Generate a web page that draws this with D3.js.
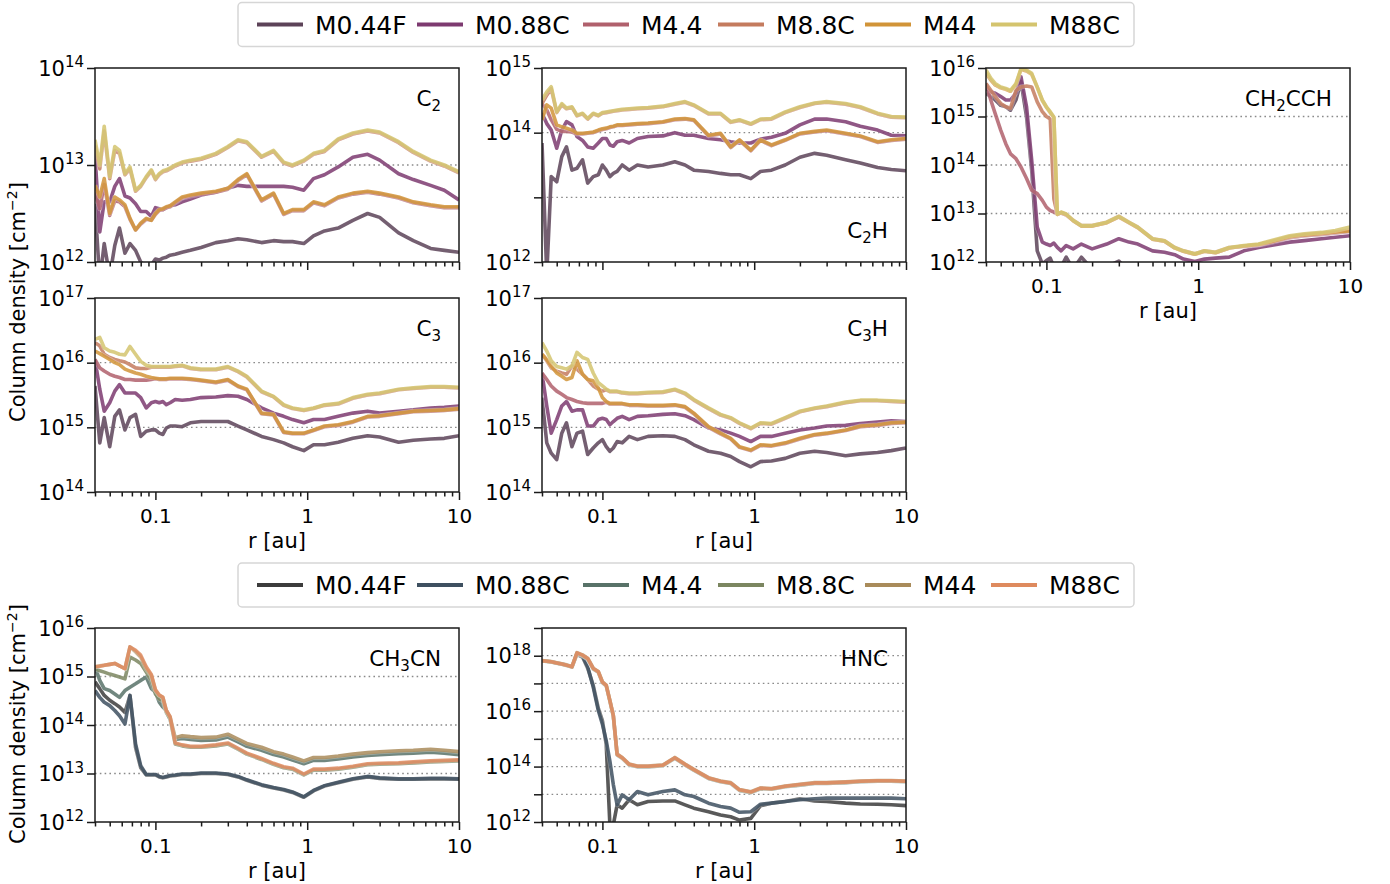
<!DOCTYPE html>
<html>
<head>
<meta charset="utf-8">
<script src="https://cdn.jsdelivr.net/npm/d3@7"></script>
<style>
  html, body { margin: 0; padding: 0; background: #fff; }
  svg { display: block; font-family: "DejaVu Sans", sans-serif; }
</style>
</head>
<body>
<svg id="chart" width="1390" height="884"></svg>
<script>
// radius grid shared by every panel [au]
const radius = [0.040, 0.043, 0.046, 0.050, 0.054, 0.058, 0.063, 0.068, 0.074, 0.080,
  0.087, 0.094, 0.100, 0.106, 0.112, 0.118, 0.125, 0.135, 0.15, 0.17,
  0.20, 0.25, 0.30, 0.35, 0.40, 0.50, 0.60, 0.70, 0.80, 0.95,
  1.1, 1.3, 1.6, 2.0, 2.5, 3.0, 4.0, 5.0, 6.5, 8.0, 10.0];

const models = ["M0.44F", "M0.88C", "M4.4", "M8.8C", "M44", "M88C"];
const warmColors = ["#5c4358", "#7d3a70", "#b0606c", "#c47b5e", "#d19438", "#d4c46e"];
const coolColors = ["#3c3c3c", "#3e5060", "#587268", "#7b8660", "#a98b5a", "#de8a5e"];

// log10 of column density [cm^-2], rows follow the order of `models`
const c2 = [
  [12.6, 11.8, 12.19, 11.85, 12.17, 12.35, 12.09, 12.19, 12.12, 12.0, 11.95, 11.97, 12.03, 12.02, 12.04, 12.05, 12.07, 12.08, 12.10, 12.12, 12.15, 12.20, 12.22, 12.24, 12.23, 12.20, 12.22, 12.21, 12.21, 12.19, 12.27, 12.32, 12.35, 12.43, 12.50, 12.46, 12.30, 12.22, 12.14, 12.12, 12.10],
  [13.1, 12.31, 12.62, 12.62, 12.78, 12.86, 12.68, 12.66, 12.60, 12.52, 12.52, 12.47, 12.56, 12.55, 12.54, 12.56, 12.58, 12.59, 12.62, 12.65, 12.69, 12.72, 12.76, 12.79, 12.78, 12.78, 12.78, 12.78, 12.77, 12.74, 12.86, 12.90, 12.98, 13.08, 13.11, 13.05, 12.91, 12.85, 12.79, 12.74, 12.64],
  [12.72, 12.55, 12.80, 12.48, 12.63, 12.62, 12.57, 12.44, 12.33, 12.39, 12.44, 12.43, 12.49, 12.53, 12.54, 12.56, 12.57, 12.61, 12.66, 12.68, 12.70, 12.72, 12.75, 12.84, 12.90, 12.63, 12.70, 12.49, 12.53, 12.53, 12.61, 12.58, 12.66, 12.70, 12.72, 12.70, 12.66, 12.61, 12.58, 12.56, 12.56],
  [13.20, 12.96, 13.35, 12.86, 13.15, 13.12, 12.90, 12.96, 12.73, 12.78, 12.87, 12.94, 12.85, 12.90, 12.93, 12.94, 12.96, 12.99, 13.02, 13.04, 13.06, 13.11, 13.18, 13.25, 13.23, 13.08, 13.14, 13.02, 12.99, 13.04, 13.11, 13.14, 13.26, 13.32, 13.35, 13.33, 13.23, 13.13, 13.04, 12.99, 12.92],
  [12.79, 12.67, 12.86, 12.50, 12.67, 12.64, 12.59, 12.45, 12.33, 12.40, 12.45, 12.43, 12.50, 12.54, 12.55, 12.57, 12.58, 12.62, 12.67, 12.69, 12.71, 12.73, 12.76, 12.85, 12.91, 12.64, 12.71, 12.50, 12.54, 12.54, 12.62, 12.59, 12.67, 12.71, 12.73, 12.71, 12.67, 12.62, 12.59, 12.57, 12.57],
  [13.26, 13.0, 13.40, 12.88, 13.19, 13.15, 12.91, 12.98, 12.74, 12.79, 12.88, 12.95, 12.86, 12.91, 12.94, 12.95, 12.97, 13.0, 13.03, 13.05, 13.07, 13.12, 13.19, 13.26, 13.24, 13.09, 13.15, 13.03, 13.0, 13.05, 13.12, 13.15, 13.27, 13.33, 13.36, 13.34, 13.24, 13.14, 13.05, 13.0, 12.93]
];

const c2h = [
  [13.84, 11.8, 13.32, 13.24, 13.63, 13.78, 13.42, 13.45, 13.58, 13.22, 13.32, 13.35, 13.50, 13.42, 13.32, 13.37, 13.40, 13.50, 13.42, 13.50, 13.47, 13.50, 13.55, 13.50, 13.42, 13.40, 13.37, 13.35, 13.35, 13.29, 13.40, 13.42, 13.50, 13.62, 13.68, 13.65, 13.58, 13.53, 13.46, 13.43, 13.41],
  [14.30, 14.14, 14.04, 13.76, 14.04, 14.17, 14.12, 13.94, 13.88, 13.78, 13.76, 13.84, 13.91, 13.91, 13.81, 13.79, 13.86, 13.88, 13.84, 13.91, 13.94, 13.95, 14.0, 13.96, 13.96, 13.91, 13.89, 13.86, 13.84, 13.84, 13.90, 13.93, 13.99, 14.12, 14.21, 14.21, 14.17, 14.10, 14.04, 13.96, 13.95],
  [14.45, 14.35, 14.20, 14.05, 14.02, 14.02, 14.01, 13.98, 13.98, 13.99, 14.00, 14.03, 14.05, 14.06, 14.08, 14.09, 14.11, 14.11, 14.12, 14.13, 14.14, 14.16, 14.20, 14.21, 14.19, 13.95, 13.98, 13.77, 13.88, 13.72, 13.88, 13.80, 13.88, 13.98, 14.01, 14.03, 13.98, 13.94, 13.85, 13.88, 13.90],
  [14.45, 14.58, 14.68, 14.31, 14.43, 14.37, 14.39, 14.26, 14.29, 14.21, 14.29, 14.26, 14.30, 14.31, 14.32, 14.33, 14.34, 14.35, 14.36, 14.37, 14.38, 14.40, 14.44, 14.47, 14.42, 14.29, 14.29, 14.16, 14.19, 14.13, 14.20, 14.21, 14.31, 14.39, 14.45, 14.47, 14.44, 14.39, 14.29, 14.24, 14.23],
  [14.20, 14.43, 14.38, 14.12, 14.09, 14.07, 14.04, 13.99, 13.99, 14.0, 14.01, 14.04, 14.06, 14.07, 14.09, 14.10, 14.12, 14.12, 14.13, 14.14, 14.15, 14.17, 14.21, 14.22, 14.20, 13.96, 13.99, 13.78, 13.89, 13.73, 13.89, 13.81, 13.89, 13.99, 14.02, 14.04, 13.99, 13.95, 13.86, 13.89, 13.91],
  [14.51, 14.63, 14.71, 14.32, 14.45, 14.38, 14.40, 14.27, 14.30, 14.22, 14.30, 14.27, 14.31, 14.32, 14.33, 14.34, 14.35, 14.36, 14.37, 14.38, 14.39, 14.41, 14.45, 14.48, 14.43, 14.30, 14.30, 14.17, 14.20, 14.14, 14.21, 14.22, 14.32, 14.40, 14.46, 14.48, 14.45, 14.40, 14.30, 14.25, 14.24]
];

const ch2cch = [
  [15.48, 15.41, 15.34, 15.23, 15.20, 15.13, 15.34, 15.72, 14.99, 13.89, 12.23, 11.96, 12.03, 12.08, 11.9, 11.85, 11.9, 12.1, 11.85, 12.1, 11.85, 11.9, 12.02, 11.8, 11.8, 11.8, 11.7, 11.7, 11.7, 11.7, 11.7, 11.7, 11.7, 11.7, 11.7, 11.7, 11.7, 11.7, 11.7, 11.7, 11.7],
  [15.58, 15.51, 15.48, 15.41, 15.34, 15.34, 15.48, 15.82, 15.20, 14.10, 12.72, 12.41, 12.37, 12.34, 12.39, 12.30, 12.23, 12.34, 12.27, 12.37, 12.27, 12.37, 12.48, 12.41, 12.37, 12.23, 12.20, 12.15, 12.06, 12.01, 12.06, 12.08, 12.10, 12.23, 12.30, 12.34, 12.41, 12.44, 12.48, 12.51, 12.54],
  [15.68, 15.34, 15.06, 14.72, 14.44, 14.23, 14.13, 13.96, 13.72, 13.48, 13.41, 13.27, 13.13, 13.06, 13.03, 12.99, 13.01, 12.97, 12.86, 12.75, 12.75, 12.82, 12.94, 12.82, 12.72, 12.48, 12.44, 12.30, 12.23, 12.17, 12.23, 12.20, 12.30, 12.32, 12.35, 12.40, 12.50, 12.54, 12.57, 12.60, 12.63],
  [15.68, 15.54, 15.41, 15.27, 15.20, 15.17, 15.54, 15.61, 15.63, 15.61, 15.30, 15.10, 15.0, 14.95, 13.3, 12.98, 13.02, 12.98, 12.85, 12.74, 12.74, 12.81, 12.93, 12.81, 12.71, 12.47, 12.43, 12.29, 12.22, 12.16, 12.22, 12.19, 12.29, 12.33, 12.36, 12.42, 12.52, 12.56, 12.59, 12.62, 12.66],
  [15.90, 15.75, 15.65, 15.59, 15.56, 15.52, 15.66, 15.97, 15.94, 15.87, 15.60, 15.33, 15.19, 15.08, 14.98, 12.98, 13.02, 12.98, 12.85, 12.74, 12.74, 12.81, 12.93, 12.81, 12.71, 12.47, 12.43, 12.29, 12.22, 12.16, 12.22, 12.19, 12.29, 12.33, 12.36, 12.42, 12.52, 12.56, 12.59, 12.62, 12.64],
  [15.96, 15.79, 15.68, 15.61, 15.58, 15.54, 15.68, 15.99, 15.96, 15.89, 15.61, 15.34, 15.20, 15.10, 14.99, 12.99, 13.03, 12.99, 12.86, 12.75, 12.75, 12.82, 12.94, 12.82, 12.72, 12.48, 12.44, 12.30, 12.23, 12.17, 12.23, 12.20, 12.30, 12.34, 12.37, 12.44, 12.54, 12.58, 12.61, 12.65, 12.72]
];

const c3 = [
  [15.64, 14.76, 15.15, 14.70, 15.17, 15.27, 14.96, 15.15, 15.20, 14.86, 14.94, 14.96, 14.96, 14.91, 14.89, 14.99, 15.02, 15.02, 15.01, 15.07, 15.09, 15.09, 15.09, 15.02, 14.96, 14.86, 14.81, 14.76, 14.70, 14.64, 14.73, 14.73, 14.77, 14.83, 14.87, 14.85, 14.77, 14.80, 14.82, 14.83, 14.87],
  [16.05, 15.59, 15.25, 15.38, 15.56, 15.66, 15.53, 15.53, 15.53, 15.46, 15.30, 15.38, 15.40, 15.38, 15.40, 15.35, 15.38, 15.43, 15.42, 15.43, 15.46, 15.47, 15.49, 15.48, 15.43, 15.30, 15.22, 15.17, 15.12, 15.07, 15.12, 15.12, 15.17, 15.22, 15.25, 15.22, 15.25, 15.27, 15.30, 15.31, 15.33],
  [16.05, 15.92, 15.87, 15.82, 15.79, 15.77, 15.74, 15.74, 15.73, 15.73, 15.73, 15.74, 15.75, 15.74, 15.74, 15.74, 15.75, 15.75, 15.75, 15.74, 15.72, 15.69, 15.73, 15.63, 15.58, 15.21, 15.19, 14.92, 14.90, 14.90, 14.95, 15.01, 15.03, 15.08, 15.16, 15.17, 15.21, 15.24, 15.25, 15.26, 15.28],
  [16.31, 16.26, 16.13, 16.08, 16.05, 16.03, 16.01, 15.97, 15.92, 15.91, 15.91, 15.93, 15.93, 15.93, 15.93, 15.93, 15.93, 15.94, 15.95, 15.91, 15.89, 15.89, 15.93, 15.86, 15.78, 15.55, 15.47, 15.34, 15.29, 15.26, 15.29, 15.34, 15.36, 15.45, 15.50, 15.52, 15.58, 15.60, 15.62, 15.62, 15.61],
  [16.18, 16.14, 16.10, 16.05, 16.0, 15.97, 15.90, 15.87, 15.84, 15.82, 15.79, 15.77, 15.76, 15.75, 15.75, 15.75, 15.76, 15.76, 15.76, 15.75, 15.73, 15.70, 15.74, 15.64, 15.59, 15.22, 15.20, 14.93, 14.91, 14.91, 14.96, 15.02, 15.04, 15.09, 15.17, 15.18, 15.22, 15.25, 15.26, 15.27, 15.29],
  [16.36, 16.39, 16.23, 16.18, 16.16, 16.13, 16.12, 16.25, 16.13, 16.02, 15.96, 15.94, 15.94, 15.94, 15.94, 15.94, 15.94, 15.95, 15.96, 15.92, 15.90, 15.90, 15.94, 15.87, 15.79, 15.56, 15.48, 15.35, 15.30, 15.27, 15.30, 15.35, 15.37, 15.46, 15.51, 15.53, 15.59, 15.61, 15.63, 15.63, 15.62]
];

const c3h = [
  [15.46, 14.76, 14.60, 14.50, 14.91, 15.07, 14.70, 14.91, 14.94, 14.58, 14.68, 14.76, 14.81, 14.70, 14.63, 14.68, 14.78, 14.76, 14.86, 14.81, 14.86, 14.87, 14.86, 14.81, 14.73, 14.63, 14.60, 14.55, 14.47, 14.39, 14.47, 14.48, 14.52, 14.60, 14.63, 14.61, 14.56, 14.59, 14.61, 14.64, 14.68],
  [15.84, 15.33, 14.91, 15.12, 15.33, 15.40, 15.25, 15.27, 15.27, 15.02, 15.02, 15.12, 15.14, 15.12, 15.04, 15.09, 15.14, 15.17, 15.12, 15.17, 15.18, 15.20, 15.21, 15.18, 15.12, 14.99, 14.96, 14.91, 14.86, 14.78, 14.86, 14.86, 14.91, 14.96, 14.99, 15.02, 15.03, 15.06, 15.08, 15.10, 15.09],
  [15.84, 15.74, 15.64, 15.56, 15.51, 15.46, 15.43, 15.40, 15.38, 15.37, 15.37, 15.37, 15.37, 15.39, 15.36, 15.36, 15.36, 15.36, 15.34, 15.34, 15.33, 15.33, 15.34, 15.31, 15.21, 15.00, 14.90, 14.82, 14.69, 14.64, 14.72, 14.71, 14.75, 14.82, 14.88, 14.90, 14.95, 15.01, 15.03, 15.06, 15.07],
  [16.13, 16.03, 15.92, 15.87, 15.84, 15.82, 15.95, 15.90, 15.82, 15.74, 15.64, 15.59, 15.56, 15.58, 15.55, 15.55, 15.55, 15.53, 15.52, 15.52, 15.53, 15.54, 15.58, 15.52, 15.42, 15.29, 15.19, 15.14, 15.06, 14.98, 15.06, 15.05, 15.14, 15.24, 15.29, 15.32, 15.38, 15.41, 15.41, 15.40, 15.39],
  [16.13, 16.05, 15.95, 15.84, 15.79, 15.74, 15.77, 16.03, 15.82, 15.74, 15.72, 15.61, 15.46, 15.40, 15.37, 15.37, 15.37, 15.37, 15.35, 15.35, 15.34, 15.34, 15.35, 15.32, 15.22, 15.01, 14.91, 14.83, 14.70, 14.65, 14.73, 14.72, 14.76, 14.83, 14.89, 14.91, 14.96, 15.02, 15.04, 15.07, 15.08],
  [16.31, 16.18, 16.03, 15.94, 15.92, 15.90, 15.95, 16.16, 16.08, 16.05, 15.84, 15.69, 15.64, 15.59, 15.56, 15.56, 15.56, 15.54, 15.53, 15.53, 15.54, 15.55, 15.59, 15.53, 15.43, 15.30, 15.20, 15.15, 15.07, 14.99, 15.07, 15.06, 15.15, 15.25, 15.30, 15.33, 15.39, 15.42, 15.42, 15.41, 15.40]
];

const ch3cn = [
  [14.89, 14.75, 14.61, 14.51, 14.44, 14.37, 14.26, 14.61, 13.54, 13.12, 12.97, 12.97, 12.97, 12.93, 12.91, 12.93, 12.95, 12.96, 12.98, 12.98, 13.0, 13.0, 12.98, 12.93, 12.86, 12.76, 12.70, 12.66, 12.61, 12.51, 12.64, 12.74, 12.81, 12.88, 12.93, 12.90, 12.88, 12.88, 12.89, 12.89, 12.88],
  [14.71, 14.57, 14.47, 14.40, 14.30, 14.19, 14.02, 14.61, 13.61, 13.16, 12.98, 12.98, 12.98, 12.94, 12.92, 12.94, 12.96, 12.97, 12.99, 12.99, 13.01, 13.01, 12.99, 12.94, 12.87, 12.77, 12.71, 12.67, 12.62, 12.52, 12.65, 12.75, 12.82, 12.89, 12.94, 12.91, 12.89, 12.89, 12.90, 12.90, 12.89],
  [15.20, 14.92, 14.75, 14.71, 14.64, 14.57, 14.71, 14.78, 14.85, 14.92, 14.99, 14.75, 14.68, 14.47, 14.37, 14.30, 14.12, 13.70, 13.72, 13.70, 13.68, 13.69, 13.75, 13.65, 13.56, 13.48, 13.39, 13.34, 13.28, 13.20, 13.27, 13.27, 13.30, 13.34, 13.37, 13.39, 13.41, 13.42, 13.44, 13.42, 13.39],
  [15.16, 15.12, 15.09, 15.05, 15.02, 14.99, 14.95, 15.40, 15.34, 15.27, 15.09, 14.92, 14.64, 14.54, 14.50, 14.26, 14.12, 13.61, 13.57, 13.54, 13.54, 13.57, 13.61, 13.50, 13.40, 13.29, 13.19, 13.12, 13.09, 12.97, 13.07, 13.07, 13.09, 13.13, 13.18, 13.19, 13.20, 13.22, 13.24, 13.25, 13.26],
  [15.20, 15.22, 15.23, 15.25, 15.27, 15.22, 15.16, 15.61, 15.51, 15.40, 15.16, 15.02, 14.71, 14.61, 14.57, 14.30, 14.16, 13.74, 13.78, 13.76, 13.74, 13.75, 13.81, 13.71, 13.62, 13.54, 13.45, 13.40, 13.34, 13.26, 13.33, 13.33, 13.36, 13.40, 13.43, 13.45, 13.47, 13.48, 13.50, 13.48, 13.45],
  [15.20, 15.21, 15.23, 15.25, 15.27, 15.22, 15.16, 15.61, 15.54, 15.44, 15.20, 15.04, 14.73, 14.62, 14.57, 14.30, 14.17, 13.63, 13.59, 13.56, 13.56, 13.59, 13.63, 13.52, 13.42, 13.31, 13.21, 13.14, 13.11, 12.99, 13.09, 13.09, 13.11, 13.15, 13.20, 13.21, 13.22, 13.24, 13.26, 13.27, 13.28]
];

const hnc = [
  [17.82, 17.80, 17.78, 17.74, 17.70, 17.66, 17.60, 18.05, 17.95, 17.55, 16.93, 16.10, 15.65, 14.80, 11.9, 11.9, 12.62, 12.50, 12.80, 12.62, 12.74, 12.76, 12.76, 12.62, 12.50, 12.37, 12.25, 12.19, 12.07, 12.13, 12.59, 12.68, 12.74, 12.84, 12.76, 12.74, 12.68, 12.65, 12.64, 12.62, 12.59],
  [17.82, 17.80, 17.78, 17.74, 17.70, 17.66, 17.60, 18.08, 17.98, 17.60, 16.87, 16.02, 15.53, 14.93, 14.20, 13.35, 12.62, 12.98, 12.80, 13.10, 12.98, 13.10, 13.16, 12.98, 12.92, 12.68, 12.56, 12.50, 12.35, 12.37, 12.64, 12.68, 12.74, 12.80, 12.84, 12.86, 12.86, 12.86, 12.86, 12.86, 12.84],
  [17.82, 17.80, 17.78, 17.74, 17.70, 17.66, 17.60, 18.08, 18.00, 17.88, 17.52, 17.40, 17.03, 16.91, 16.36, 15.82, 14.42, 14.30, 14.06, 13.99, 13.99, 14.03, 14.30, 14.06, 13.87, 13.57, 13.45, 13.39, 13.14, 13.06, 13.20, 13.18, 13.27, 13.33, 13.39, 13.39, 13.42, 13.45, 13.47, 13.47, 13.45],
  [17.81, 17.79, 17.77, 17.73, 17.69, 17.65, 17.59, 18.09, 18.01, 17.89, 17.53, 17.41, 17.04, 16.92, 16.37, 15.83, 14.43, 14.31, 14.07, 14.00, 14.00, 14.04, 14.31, 14.07, 13.88, 13.58, 13.46, 13.40, 13.15, 13.07, 13.21, 13.19, 13.28, 13.34, 13.40, 13.40, 13.43, 13.46, 13.48, 13.48, 13.46],
  [17.83, 17.81, 17.79, 17.75, 17.71, 17.67, 17.61, 18.11, 18.03, 17.91, 17.55, 17.43, 17.06, 16.94, 16.39, 15.85, 14.45, 14.33, 14.09, 14.02, 14.02, 14.06, 14.33, 14.09, 13.90, 13.60, 13.48, 13.42, 13.17, 13.09, 13.23, 13.21, 13.30, 13.36, 13.42, 13.42, 13.45, 13.48, 13.50, 13.50, 13.48],
  [17.82, 17.80, 17.78, 17.74, 17.70, 17.66, 17.60, 18.10, 18.02, 17.90, 17.54, 17.42, 17.05, 16.93, 16.38, 15.84, 14.44, 14.32, 14.08, 14.01, 14.01, 14.05, 14.32, 14.08, 13.89, 13.59, 13.47, 13.41, 13.16, 13.08, 13.22, 13.20, 13.29, 13.35, 13.41, 13.41, 13.44, 13.47, 13.49, 13.49, 13.47]
];

const colX = [[95, 459], [542, 906], [986, 1350]];
const rowY = [[68, 262], [298, 492], [628, 822]];

const panels = [
  { id: "c2", label: [["C"], ["2", 1]], data: c2, yMin: 12, yMax: 14, col: 0, row: 0, colors: warmColors, xLabels: false, labelTop: true },
  { id: "c2h", label: [["C"], ["2", 1], ["H"]], data: c2h, yMin: 12, yMax: 15, col: 1, row: 0, colors: warmColors, xLabels: false, labelTop: false, skip: [13] },
  { id: "ch2cch", label: [["CH"], ["2", 1], ["CCH"]], data: ch2cch, yMin: 12, yMax: 16, col: 2, row: 0, colors: warmColors, xLabels: true, labelTop: true },
  { id: "c3", label: [["C"], ["3", 1]], data: c3, yMin: 14, yMax: 17, col: 0, row: 1, colors: warmColors, xLabels: true, labelTop: true },
  { id: "c3h", label: [["C"], ["3", 1], ["H"]], data: c3h, yMin: 14, yMax: 17, col: 1, row: 1, colors: warmColors, xLabels: true, labelTop: true },
  { id: "ch3cn", label: [["CH"], ["3", 1], ["CN"]], data: ch3cn, yMin: 12, yMax: 16, col: 0, row: 2, colors: coolColors, xLabels: true, labelTop: true },
  { id: "hnc", label: [["HNC"]], data: hnc, yMin: 12, yMax: 19, col: 1, row: 2, colors: coolColors, xLabels: true, labelTop: true, skip: [13, 15, 17, 19] }
];

const svg = d3.select("#chart");
const ink = "#1a1a1a";
const defs = svg.append("defs");

const majorR = [0.1, 1, 10];
const minorR = [0.04, 0.05, 0.06, 0.07, 0.08, 0.09, 0.2, 0.3, 0.4, 0.5, 0.6, 0.7, 0.8, 0.9, 2, 3, 4, 5, 6, 7, 8, 9];

function drawPanel(p) {
    const [x0, x1] = colX[p.col];
    const [y0, y1] = rowY[p.row];
    const x = d3.scaleLog().domain([0.04, 10]).range([x0, x1]);
    const y = d3.scaleLog().domain([10 ** p.yMin, 10 ** p.yMax]).range([y1, y0]);
    const g = svg.append("g").attr("class", `panel-${p.id}`);

    defs.append("clipPath").attr("id", `clip-${p.id}`)
        .append("rect").attr("x", x0).attr("y", y0).attr("width", x1 - x0).attr("height", y1 - y0);

    // dotted lines on the inner decades
    const inner = d3.range(p.yMin + 1, p.yMax);
    g.selectAll(".grid").data(inner).join("line")
        .classed("grid", true)
        .attr("x1", x0).attr("x2", x1)
        .attr("y1", e => y(10 ** e)).attr("y2", e => y(10 ** e))
        .attr("stroke", "#8a8a8a")
        .attr("stroke-width", 1.3)
        .attr("stroke-dasharray", "1.6,3.2");

    const line = d3.line()
        .x((d, i) => x(radius[i]))
        .y(d => y(10 ** d));

    const series = g.append("g").attr("clip-path", `url(#clip-${p.id})`)
        .selectAll("g").data(p.data).join("g");
    series.append("path")
        .attr("d", line)
        .attr("fill", "none")
        .attr("stroke", "#fff")
        .attr("stroke-opacity", 0.3)
        .attr("stroke-width", 5)
        .attr("stroke-linejoin", "round");
    series.append("path")
        .attr("d", line)
        .attr("fill", "none")
        .attr("stroke", (d, i) => p.colors[i])
        .attr("stroke-opacity", 0.85)
        .attr("stroke-width", 3.6)
        .attr("stroke-linejoin", "round")
        .attr("stroke-linecap", "butt");

    // frame
    g.append("rect")
        .attr("x", x0).attr("y", y0)
        .attr("width", x1 - x0).attr("height", y1 - y0)
        .attr("fill", "none").attr("stroke", ink).attr("stroke-width", 1.5);

    // x axis, major and minor ticks
    const xMajor = g.append("g").attr("transform", `translate(0,${y1})`)
        .call(d3.axisBottom(x).tickValues(majorR).tickSize(8).tickPadding(9)
            .tickFormat(p.xLabels ? (d => String(d)) : () => ""));
    const xMinor = g.append("g").attr("transform", `translate(0,${y1})`)
        .call(d3.axisBottom(x).tickValues(minorR).tickSize(4.5).tickFormat(() => ""));

    // y axis
    const yDecades = d3.range(p.yMin, p.yMax + 1);
    const yAxis = g.append("g").attr("transform", `translate(${x0},0)`)
        .call(d3.axisLeft(y).tickValues(yDecades.map(e => 10 ** e)).tickSize(8).tickFormat(() => ""));

    [xMajor, xMinor, yAxis].forEach(a => {
        a.select(".domain").remove();
        a.selectAll(".tick line").attr("stroke", ink).attr("stroke-width", 1.5);
    });
    xMajor.selectAll(".tick text")
        .attr("fill", "#000").attr("font-size", 20).attr("font-family", "DejaVu Sans");

    const skip = p.skip || [];
    const yLab = g.selectAll(".ylab").data(yDecades.filter(e => !skip.includes(e))).join("text")
        .classed("ylab", true)
        .attr("x", x0 - 11)
        .attr("y", e => y(10 ** e) + 7.5)
        .attr("text-anchor", "end")
        .attr("font-size", 21)
        .attr("fill", "#000");
    yLab.append("tspan").text("10");
    yLab.append("tspan").attr("dy", -8.5).attr("font-size", 15).text(e => e);

    if (p.xLabels) {
        g.append("text")
            .attr("x", (x0 + x1) / 2)
            .attr("y", y1 + 56)
            .attr("text-anchor", "middle")
            .attr("font-size", 21)
            .attr("fill", "#000")
            .text("r [au]");
    }

    // species name
    const name = g.append("text")
        .attr("x", x1 - 18)
        .attr("y", p.labelTop ? y0 + 38 : y1 - 24)
        .attr("text-anchor", "end")
        .attr("font-size", 21.5)
        .attr("fill", "#000");
    let shifted = false;
    p.label.forEach(([txt, sub]) => {
        const t = name.append("tspan").text(txt);
        if (sub) { t.attr("dy", 5).attr("font-size", 15); shifted = true; }
        else if (shifted) { t.attr("dy", -5); shifted = false; }
    });
}

panels.forEach(drawPanel);

// y labels
[302, 724].forEach(cy => {
    const t = svg.append("text")
        .attr("transform", `translate(25,${cy}) rotate(-90)`)
        .attr("text-anchor", "middle")
        .attr("font-size", 21)
        .attr("fill", "#000");
    t.append("tspan").text("Column density [cm");
    t.append("tspan").attr("dy", -8).attr("font-size", 14).text("\u22122");
    t.append("tspan").attr("dy", 8).text("]");
});

// legends
const legendItemX = [257, 417, 583, 718, 865, 991];

function drawLegend(top, colors) {
    const lg = svg.append("g").attr("class", "legend");
    lg.append("rect")
        .attr("x", 238).attr("y", top)
        .attr("width", 896).attr("height", 44)
        .attr("rx", 4)
        .attr("fill", "#fff").attr("fill-opacity", 0.9)
        .attr("stroke", "#d6d6d6").attr("stroke-width", 1.5);
    const cy = top + 22;
    const items = lg.selectAll(".item").data(models).join("g").classed("item", true)
        .attr("transform", (d, i) => `translate(${legendItemX[i]},${cy})`);
    items.append("line")
        .attr("x1", 0).attr("x2", 46)
        .attr("stroke", (d, i) => colors[i])
        .attr("stroke-width", 4);
    items.append("text")
        .attr("x", 58).attr("y", 9)
        .attr("font-size", 25)
        .attr("fill", "#000")
        .text(d => d);
}

drawLegend(2.5, warmColors);
drawLegend(563, coolColors);
</script>
</body>
</html>
